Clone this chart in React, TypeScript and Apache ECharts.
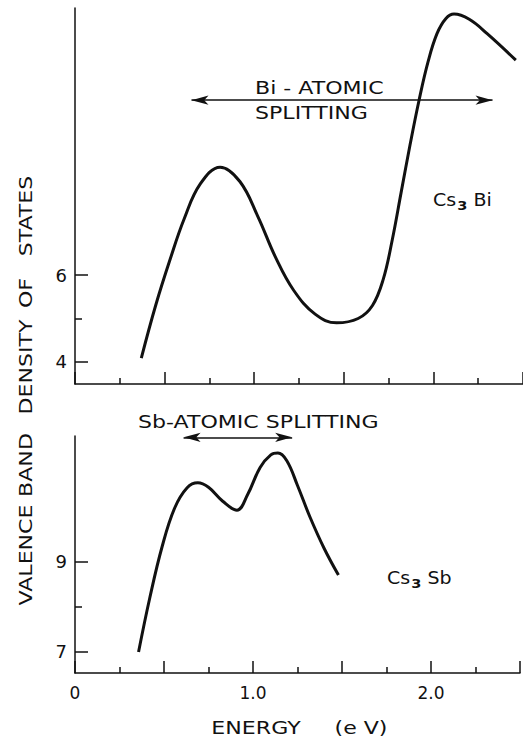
import React, { useEffect, useRef } from "react";
import * as echarts from "echarts";

// Cs3Bi (top panel)
const energyBi = [0.37, 0.45, 0.53, 0.61, 0.70, 0.81, 0.92, 1.02, 1.12, 1.22, 1.34, 1.46, 1.58, 1.66, 1.72, 1.77, 1.82, 1.87, 1.92, 1.97, 2.02, 2.07, 2.115, 2.2, 2.3, 2.46];
const dosBi = [4.09, 5.3, 6.35, 7.3, 8.1, 8.48, 8.15, 7.35, 6.4, 5.65, 5.1, 4.9, 5.0, 5.3, 5.9, 6.8, 7.9, 9.0, 10.02, 10.9, 11.55, 11.9, 12.0, 11.88, 11.55, 10.94];

// Cs3Sb (bottom panel)
const energySb = [0.357, 0.42, 0.49, 0.56, 0.63, 0.69, 0.75, 0.83, 0.91, 0.97, 1.04, 1.10, 1.14, 1.19, 1.25, 1.32, 1.40, 1.48];
const dosSb = [7.0, 8.2, 9.35, 10.2, 10.65, 10.76, 10.66, 10.35, 10.15, 10.5, 11.1, 11.38, 11.42, 11.25, 10.7, 10.0, 9.3, 8.71];

const topTicks = [4, 6];
const topMinorTicks = [5];
const bottomTicks = [7, 9];
const bottomMinorTicks = [8];

const biArrow = { from: 0.65, to: 2.33, level: 10.02 };
const sbArrow = { from: 0.61, to: 1.22, level: 11.77 };

const FONT = "DejaVu Sans";
const INK = "#111";
const SX = 1.3;

export default function App() {
  const ref = useRef<HTMLDivElement>(null);
  useEffect(() => {
    if (!ref.current) return;
    const chart = echarts.init(ref.current, null, { renderer: "svg" });
    const axisLine = { show: true, lineStyle: { color: INK, width: 1.5 } };
    const xAxisBase = (gridIndex: number, showLabel: boolean) => ({
      type: "value",
      gridIndex,
      min: 0,
      max: 2.5,
      interval: 0.5,
      axisLine,
      splitLine: { show: false },
      axisTick: { show: true, inside: true, length: 12, lineStyle: { color: INK, width: 1.5 } },
      minorTick: { show: true, splitNumber: 2, length: 6, lineStyle: { color: INK, width: 1.5 } },
      axisLabel: {
        show: showLabel,
        margin: 11,
        color: INK,
        fontFamily: FONT,
        fontSize: 17,
        formatter: (v: number) => (v === 0 ? "0" : Math.abs(v % 1) < 1e-9 ? v.toFixed(1) : ""),
      },
    });
    const yMain = (gridIndex: number, min: number, max: number, ticks: number[]) => ({
      type: "value",
      gridIndex,
      min,
      max,
      axisLine,
      splitLine: { show: false },
      axisTick: { show: true, inside: true, length: 13, customValues: ticks, lineStyle: { color: INK, width: 1.5 } },
      axisLabel: { show: true, customValues: ticks, margin: 8, color: INK, fontFamily: FONT, fontSize: 18 },
    });
    const yMinor = (gridIndex: number, min: number, max: number, ticks: number[]) => ({
      type: "value",
      gridIndex,
      min,
      max,
      position: "left",
      axisLine: { show: false },
      splitLine: { show: false },
      axisTick: { show: true, inside: true, length: 7, customValues: ticks, lineStyle: { color: INK, width: 1.5 } },
      axisLabel: { show: false },
    });
    const arrowLine = (a: { from: number; to: number; level: number }) => ({
      silent: true,
      symbol: ["arrow", "arrow"],
      symbolSize: [7, 17],
      label: { show: false },
      lineStyle: { color: INK, width: 1.5, type: "solid" },
      data: [[{ coord: [a.from, a.level] }, { coord: [a.to, a.level] }]],
    });
    const txt = (text: string, x: number, y: number, align = "left", rotation = 0) => ({
      type: "text",
      x,
      y,
      rotation,
      scaleX: SX,
      style: {
        text,
        fill: INK,
        font: `17px "${FONT}"`,
        textAlign: align,
        align,
        textVerticalAlign: "middle",
        verticalAlign: "middle",
      },
    });
    const subLabel = (main: string, el: string, x: number, y: number) => ({
      type: "text",
      x,
      y,
      scaleX: 1.12,
      style: {
        text: `{a|${main}}{b|3}{a| ${el}}`,
        fill: INK,
        textVerticalAlign: "middle",
        verticalAlign: "middle",
        rich: {
          a: { fontFamily: FONT, fontSize: 17, fill: INK, color: INK },
          b: { fontFamily: FONT, fontSize: 13, fontWeight: "bold", fill: INK, color: INK, padding: [11, 0, 0, 1] },
        },
      },
    });
    const rot = Math.PI / 2;
    const lineSeries = (ax: number, xs: number[], ys: number[], arrow: { from: number; to: number; level: number }) => ({
      type: "line",
      xAxisIndex: ax,
      yAxisIndex: ax,
      data: xs.map((e, i) => [e, ys[i]]),
      smooth: 0.4,
      showSymbol: false,
      lineStyle: { color: INK, width: 3 },
      markLine: arrowLine(arrow),
    });
    chart.setOption({
      animation: false,
      backgroundColor: "#fff",
      grid: [
        { left: 75, top: 8, width: 455, height: 376 },
        { left: 75, top: 436, width: 455, height: 237 },
      ],
      xAxis: [xAxisBase(0, false), xAxisBase(1, true)],
      yAxis: [
        yMain(0, 3.494, 12.14, topTicks),
        yMain(1, 6.533, 11.8, bottomTicks),
        yMinor(0, 3.494, 12.14, topMinorTicks),
        yMinor(1, 6.533, 11.8, bottomMinorTicks),
      ],
      series: [lineSeries(0, energyBi, dosBi, biArrow), lineSeries(1, energySb, dosSb, sbArrow)],
      graphic: [
        txt("Bi - ATOMIC", 255, 88),
        txt("SPLITTING", 255, 113),
        txt("Sb-ATOMIC SPLITTING", 138, 422),
        subLabel("Cs", "Bi", 433, 200),
        subLabel("Cs", "Sb", 387, 578),
        txt("VALENCE", 26, 555, "center", rot),
        txt("BAND", 26, 465, "center", rot),
        txt("DENSITY", 26, 367, "center", rot),
        txt("OF", 26, 293, "center", rot),
        txt("STATES", 26, 216, "center", rot),
        txt("ENERGY", 256, 728, "center"),
        txt("(e V)", 361, 728, "center"),
      ],
    });
    return () => chart.dispose();
  }, []);
  return <div ref={ref} style={{ position: "absolute", left: 0, top: 0, width: 523, height: 740 }} />;
}
